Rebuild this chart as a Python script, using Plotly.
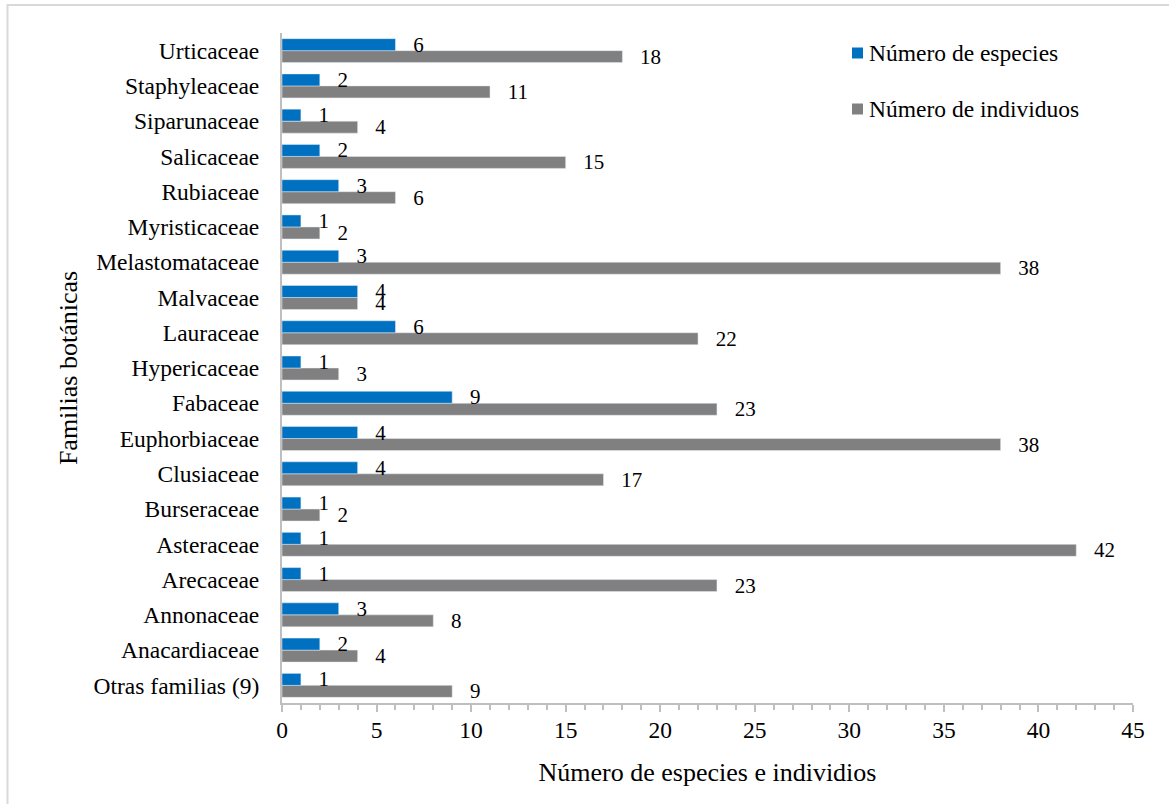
import plotly.graph_objects as go

# Botanical families (bottom to top) with species and individual counts
familias = [
    "Otras familias (9)", "Anacardiaceae", "Annonaceae", "Arecaceae",
    "Asteraceae", "Burseraceae", "Clusiaceae", "Euphorbiaceae", "Fabaceae",
    "Hypericaceae", "Lauraceae", "Malvaceae", "Melastomataceae",
    "Myristicaceae", "Rubiaceae", "Salicaceae", "Siparunaceae",
    "Staphyleaceae", "Urticaceae",
]
especies = [1, 2, 3, 1, 1, 1, 4, 4, 9, 1, 6, 4, 3, 1, 3, 2, 1, 2, 6]
individuos = [9, 4, 8, 23, 42, 2, 17, 38, 23, 3, 22, 4, 38, 2, 6, 15, 4, 11, 18]

x_ticks = [0, 5, 10, 15, 20, 25, 30, 35, 40, 45]

W, H = 1169, 804
L, R, T, B = 282, 36, 33, 101
FONT = "Liberation Serif, Times New Roman, serif"
AXIS_GRAY = "#bfbfbf"
LABEL_PAD = "\u00a0\u00a0\u2009"
COL_ESP = "#0070c0"
COL_IND = "#808080"

fig = go.Figure()

# Grouped horizontal bars: the first trace sits lower within each category
fig.add_trace(go.Bar(
    y=familias, x=individuos, orientation="h",
    name="Número de individuos", marker_color=COL_IND,
    text=[f"{LABEL_PAD}{v}" for v in individuos], textposition="outside",
    textfont=dict(family=FONT, size=21, color="#000000"),
    constraintext="none", cliponaxis=False, showlegend=False,
))
fig.add_trace(go.Bar(
    y=familias, x=especies, orientation="h",
    name="Número de especies", marker_color=COL_ESP,
    text=[f"{LABEL_PAD}{v}" for v in especies], textposition="outside",
    textfont=dict(family=FONT, size=21, color="#000000"),
    constraintext="none", cliponaxis=False, showlegend=False,
))

pw, ph = W - L - R, H - T - B

def px_x(v):
    return (v - L) / pw

def px_y(v):
    return (H - B - v) / ph

# Key in the upper right: colour swatch plus series name
legend_items = [("Número de especies", COL_ESP, 53), ("Número de individuos", COL_IND, 109)]
shapes = [dict(
    type="rect", xref="paper", yref="paper",
    x0=px_x(7.5), x1=px_x(1180), y0=px_y(815), y1=px_y(5),
    line=dict(color="#d9d9d9", width=2), fillcolor="rgba(0,0,0,0)",
    layer="below",
)]
annotations = []
for name, col, yc in legend_items:
    shapes.append(dict(
        type="rect", xref="paper", yref="paper",
        x0=px_x(852), x1=px_x(863), y0=px_y(yc + 5.5), y1=px_y(yc - 5.5),
        line=dict(width=0), fillcolor=col,
    ))
    annotations.append(dict(
        text=name, xref="paper", yref="paper", x=px_x(867), y=px_y(yc),
        xanchor="left", yanchor="middle", showarrow=False,
        font=dict(family=FONT, size=23.5, color="#000000"),
    ))

fig.update_layout(
    width=W, height=H,
    margin=dict(l=L, r=R, t=T, b=B, autoexpand=False),
    paper_bgcolor="white", plot_bgcolor="white",
    barmode="group", bargap=0.32, bargroupgap=0,
    font=dict(family=FONT, size=23, color="#000000"),
    showlegend=False,
    xaxis=dict(
        range=[0, 45], tickvals=x_ticks, ticks="outside", ticklen=7,
        tickwidth=1.5, tickcolor=AXIS_GRAY, showline=True,
        linecolor=AXIS_GRAY, linewidth=2, showgrid=False, zeroline=False,
        tickfont=dict(family=FONT, size=23.5), ticklabelstandoff=-2,
        minor=dict(dtick=1, ticks="outside", ticklen=5, tickwidth=1.5,
                   tickcolor=AXIS_GRAY, showgrid=False),
        title=dict(text="Número de especies e individios",
                   font=dict(family=FONT, size=26), standoff=21),
        automargin=False,
    ),
    yaxis=dict(
        showline=True, linecolor=AXIS_GRAY, linewidth=2, ticks="",
        showgrid=False, zeroline=False,
        tickfont=dict(family=FONT, size=23.5), ticklabelstandoff=16,
        title=dict(text="Familias botánicas",
                   font=dict(family=FONT, size=26), standoff=8),
        automargin=False,
    ),
    shapes=shapes,
    annotations=annotations,
)

fig.write_html("out.html")
